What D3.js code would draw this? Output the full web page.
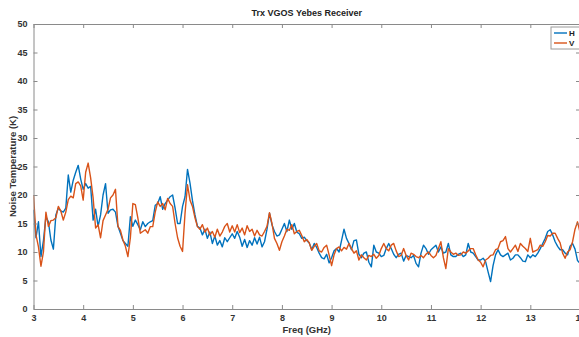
<!DOCTYPE html>
<html><head><meta charset="utf-8">
<script src="https://cdn.jsdelivr.net/npm/d3@7/dist/d3.min.js"></script>
<style>
html,body{margin:0;padding:0;background:#fff;overflow:hidden;}
svg{display:block;font-family:"Liberation Sans",Arial,sans-serif;}
</style></head>
<body>
<script>
const title = "Trx VGOS Yebes Receiver";
const xLabel = "Freq (GHz)";
const yLabel = "Noise Temperature (K)";
const seriesNames = ["H", "V"];
const xTicks = [3,4,5,6,7,8,9,10,11,12,13,14];
const yTicks = [0,5,10,15,20,25,30,35,40,45,50];
const freqStart = 3.0;   // GHz, first sample
const freqStep = 0.05;   // GHz between samples
const hValues = [
17.4,12.5,15.3,9.2,12.0,16.2,15.3,12.1,10.5,16.5,17.7,17.2,17.0,17.7,23.5,20.5,22.6,24.0,25.2,22.8,
21.0,22.0,21.2,21.5,15.6,17.5,14.5,16.5,20.0,22.0,16.8,17.4,17.5,17.0,14.5,13.3,12.0,11.5,11.0,16.2,
14.5,15.6,14.8,13.9,15.3,14.45,15.0,15.3,15.5,18.2,18.5,19.7,17.5,18.5,19.1,19.7,20.0,17.7,15.0,15.0,
18.0,19.7,24.5,22.1,19.0,16.5,14.5,14.2,13.0,14.0,12.4,13.5,11.5,12.8,11.2,12.0,10.9,12.5,11.8,12.5,
13.2,12.4,13.6,12.6,11.0,12.2,10.8,12.0,11.2,12.5,11.4,12.6,10.9,11.8,14.0,16.8,14.8,13.6,12.8,13.0,
14.0,15.0,13.6,15.6,14.0,15.0,13.5,13.2,12.4,12.6,12.0,11.6,10.4,11.5,10.8,9.8,9.0,8.8,9.6,8.1,
9.0,10.2,10.6,10.0,12.0,14.0,12.4,11.5,10.4,12.0,12.1,9.6,9.0,9.8,10.0,8.2,7.4,11.2,10.0,9.8,
9.2,9.4,10.6,11.5,10.6,9.6,9.0,9.6,9.8,8.4,9.4,9.2,9.0,9.4,8.0,7.4,9.8,11.2,10.6,9.6,
10.4,10.8,11.2,10.0,10.9,9.8,10.0,11.5,9.5,9.2,9.2,9.6,9.8,9.2,9.5,11.5,10.0,9.8,9.2,8.6,
8.6,8.9,8.3,6.5,4.8,7.6,9.5,10.4,9.5,9.2,9.5,9.8,8.6,8.9,9.5,9.5,9.0,8.4,8.3,9.5,
9.0,9.5,9.2,9.8,10.6,11.5,12.4,13.6,13.9,13.0,11.8,11.0,10.4,10.4,9.8,9.5,11.0,11.5,10.5,8.5,
8.0];
const vValues = [
20.0,13.0,10.9,7.5,10.0,17.0,14.5,15.5,15.6,16.0,18.0,17.2,15.6,17.0,19.2,19.8,19.5,22.0,22.3,21.6,
19.1,24.0,25.6,23.0,19.5,14.2,14.8,12.5,15.5,16.5,17.5,19.5,20.0,21.0,14.5,13.8,12.1,11.0,9.2,12.5,
18.5,18.3,16.0,13.3,13.6,13.9,13.3,14.45,14.45,17.0,18.8,18.0,18.5,17.4,19.4,18.5,18.0,15.0,12.5,11.0,
10.1,16.8,21.8,19.1,18.0,16.0,14.45,14.0,14.8,13.5,14.2,13.0,13.6,12.6,14.0,12.8,13.5,14.5,15.0,13.5,
14.6,13.5,14.8,13.4,14.2,13.0,14.6,13.6,14.0,12.8,13.8,13.0,12.8,13.6,14.5,16.9,15.0,12.4,11.5,10.3,
11.8,12.8,14.0,13.8,14.8,13.2,13.6,13.8,12.9,11.8,12.2,11.6,10.3,11.0,11.5,10.2,10.0,10.8,11.2,9.5,
7.6,9.5,10.6,10.9,10.2,10.8,10.5,11.5,10.6,9.8,10.2,8.6,9.5,9.0,8.6,9.4,9.2,9.6,8.9,9.4,
10.6,11.5,10.6,10.2,11.2,11.5,10.2,9.2,9.4,10.6,9.4,8.6,9.8,9.6,9.2,9.0,9.4,9.0,9.6,10.0,
9.4,9.0,9.4,10.6,11.8,9.0,7.1,10.6,10.0,9.6,9.8,9.4,9.5,10.0,9.8,10.2,10.6,10.6,9.5,8.6,
8.2,7.4,8.6,8.9,9.4,9.5,10.4,10.6,11.8,12.0,12.7,10.6,10.0,10.6,11.2,10.1,11.5,11.0,10.6,10.1,
12.4,10.0,10.2,10.4,11.2,11.0,11.8,12.9,12.8,13.3,13.3,12.4,11.6,9.8,8.9,10.0,10.4,11.8,14.0,15.3,
13.5];

const W = 579, H = 337;
const m = {left: 33.5, right: 580, top: 24, bottom: 309};
const svg = d3.select("body").append("svg").attr("width", W).attr("height", H);

const x = d3.scaleLinear().domain([3, 14]).range([m.left, m.right]);
const y = d3.scaleLinear().domain([0, 50]).range([m.bottom, m.top]);

const axisColor = "#8a8a8a";
const textColor = "#333";

svg.append("defs").append("clipPath").attr("id", "clip")
  .append("rect").attr("x", m.left).attr("y", m.top)
  .attr("width", m.right - m.left).attr("height", m.bottom - m.top);

const toPts = vals => vals.map((v, i) => [freqStart + i * freqStep, v]);
const line = d3.line().x(d => x(d[0])).y(d => y(d[1]));

const g = svg.append("g").attr("clip-path", "url(#clip)");
g.append("path").datum(toPts(hValues)).attr("d", line)
  .attr("fill", "none").attr("stroke", "#0072BD").attr("stroke-width", 1.4).attr("stroke-linejoin", "round");
g.append("path").datum(toPts(vValues)).attr("d", line)
  .attr("fill", "none").attr("stroke", "#D95319").attr("stroke-width", 1.4).attr("stroke-linejoin", "round");

// axes
const styleAxis = sel => {
  sel.selectAll(".domain").attr("stroke", axisColor);
  sel.selectAll(".tick line").attr("stroke", axisColor);
  sel.selectAll(".tick text").attr("fill", textColor)
    .attr("font-size", 9).attr("font-weight", "bold");
};
const xb = svg.append("g").attr("transform", `translate(0,${m.bottom})`)
  .call(d3.axisBottom(x).tickValues(xTicks).tickFormat(d3.format("d")).tickSizeInner(-4).tickSizeOuter(0).tickPadding(6));
styleAxis(xb);
const xt = svg.append("g").attr("transform", `translate(0,${m.top})`)
  .call(d3.axisTop(x).tickValues(xTicks).tickFormat("").tickSizeInner(-4).tickSizeOuter(0));
styleAxis(xt);
const yl = svg.append("g").attr("transform", `translate(${m.left},0)`)
  .call(d3.axisLeft(y).tickValues(yTicks).tickFormat(d3.format("d")).tickSizeInner(-4).tickSizeOuter(0).tickPadding(6));
styleAxis(yl);
const yr = svg.append("g").attr("transform", `translate(${m.right},0)`)
  .call(d3.axisRight(y).tickValues(yTicks).tickFormat("").tickSizeInner(-4).tickSizeOuter(0));
styleAxis(yr);

// labels
svg.append("text").attr("x", (m.left + m.right) / 2).attr("y", 16)
  .attr("text-anchor", "middle").attr("font-size", 9).attr("font-weight", "bold")
  .attr("fill", "#222").text(title);
svg.append("text").attr("x", (m.left + m.right) / 2).attr("y", 333)
  .attr("text-anchor", "middle").attr("font-size", 9.5).attr("font-weight", "bold")
  .attr("fill", textColor).text(xLabel);
svg.append("text").attr("transform", `translate(16,${(m.top + m.bottom) / 2}) rotate(-90)`)
  .attr("text-anchor", "middle").attr("font-size", 9.5).attr("font-weight", "bold")
  .attr("fill", textColor).text(yLabel);

// legend
const lg = svg.append("g").attr("transform", "translate(551,27)");
lg.append("rect").attr("x", 0).attr("y", 0).attr("width", 36).attr("height", 22)
  .attr("fill", "#fff").attr("stroke", "#9a9a9a").attr("stroke-width", 1);
const colors = ["#0072BD", "#D95319"];
seriesNames.forEach((n, i) => {
  const yy = 6 + i * 10;
  lg.append("line").attr("x1", 3).attr("x2", 16).attr("y1", yy).attr("y2", yy)
    .attr("stroke", colors[i]).attr("stroke-width", 1.4);
  lg.append("text").attr("x", 18).attr("y", yy + 3).attr("font-size", 8)
    .attr("font-weight", "bold").attr("fill", "#222").text(n);
});
</script>
</body></html>
